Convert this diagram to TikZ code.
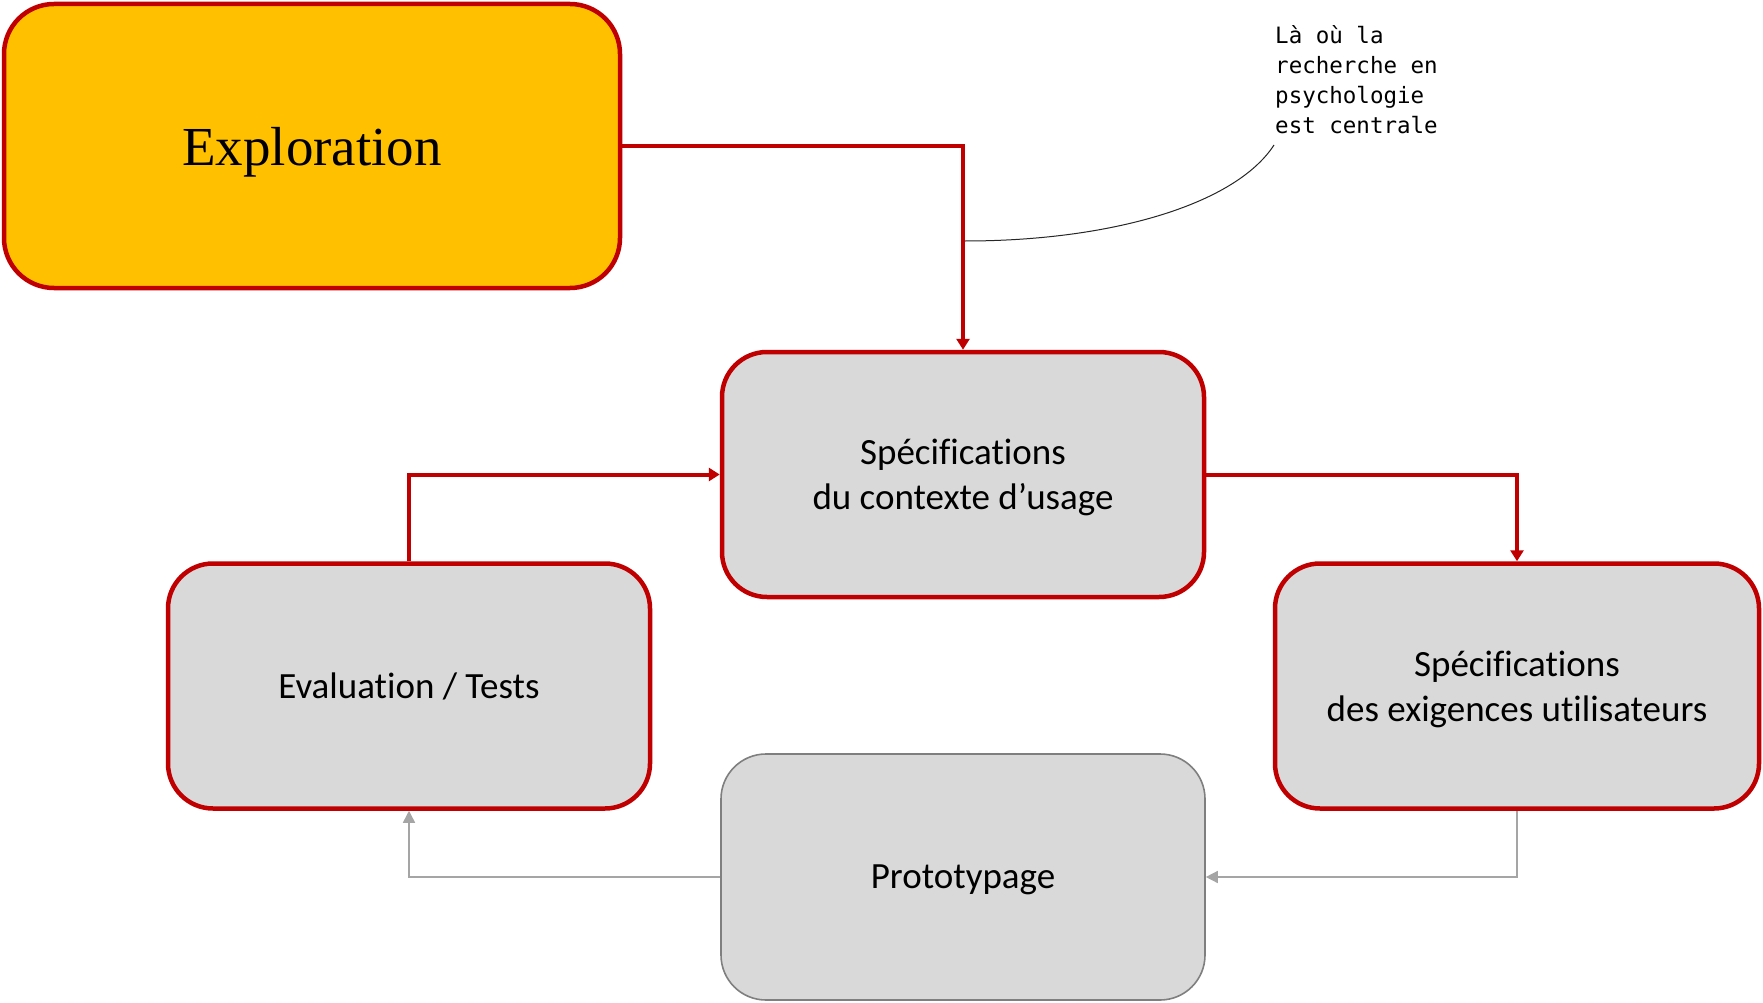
\documentclass[tikz,border=0pt]{standalone}
\usepackage{fontspec}
\setmainfont{Carlito}[Ligatures=CommonOff]
\newfontfamily\explfont{Liberation Serif}
\newfontfamily\callfont{DejaVu Sans Mono}
\usetikzlibrary{arrows.meta}
\definecolor{cred}{HTML}{C00000}
\definecolor{cyel}{HTML}{FFC000}
\definecolor{cgray}{HTML}{D9D9D9}
\definecolor{cbord}{HTML}{7F7F7F}
\definecolor{cline}{HTML}{A5A5A5}
\tikzset{
  redbox/.style={draw=cred, line width=4.5pt, fill=cgray, rounded corners=45pt,
    minimum width=482pt, minimum height=245pt, align=center, inner sep=0pt,
    font=\fontsize{37}{45}\selectfont},
  graybox/.style={redbox, draw=cbord, line width=1.6pt},
  redline/.style={draw=cred, line width=4pt, -{Triangle[width=13pt,length=11pt]}},
  grayline/.style={draw=cline, line width=1.5pt, -{Triangle[width=12pt,length=12pt]}},
}
\begin{document}
\begin{tikzpicture}[x=1pt,y=-1pt]
\useasboundingbox (0,0) rectangle (1763,1003);
\node[redbox, fill=cyel, rounded corners=50pt, minimum width=616pt, minimum height=284pt,
  text depth=0pt, font=\explfont\fontsize{55}{60}\selectfont] (expl) at (312,146) {Exploration};
\node[redbox, text depth=0pt] (ctx) at (963,474.5) {Spécifications\\du contexte d’usage};
\node[redbox] (eval) at (409,686) {Evaluation / Tests};
\node[redbox, minimum width=484pt, text depth=0pt] (exig) at (1517,686) {Spécifications\\des exigences utilisateurs};
\node[graybox, minimum width=484pt, minimum height=246pt, text depth=0pt] (proto) at (963,877) {Prototypage};
\draw[redline] (expl.east) -| (ctx.north);
\draw[redline] (eval.north) |- (ctx.west);
\draw[redline] (ctx.east) -| (exig.north);
\draw[grayline] (exig.south) |- (proto.east);
\draw[grayline] (proto.west) -| (eval.south);
\node[anchor=north west, align=left, inner sep=0pt, font=\callfont\fontsize{22.5}{30}\selectfont]
  (call) at (1275,25) {Là où la\\recherche en\\psychologie\\est centrale};
\coordinate (cstart) at (1274,145);
\coordinate (cend) at (965,241);
\draw[line width=1pt, black!85] (cstart) .. controls (1235,205) and (1110,241) .. (cend);
\end{tikzpicture}
\end{document}
